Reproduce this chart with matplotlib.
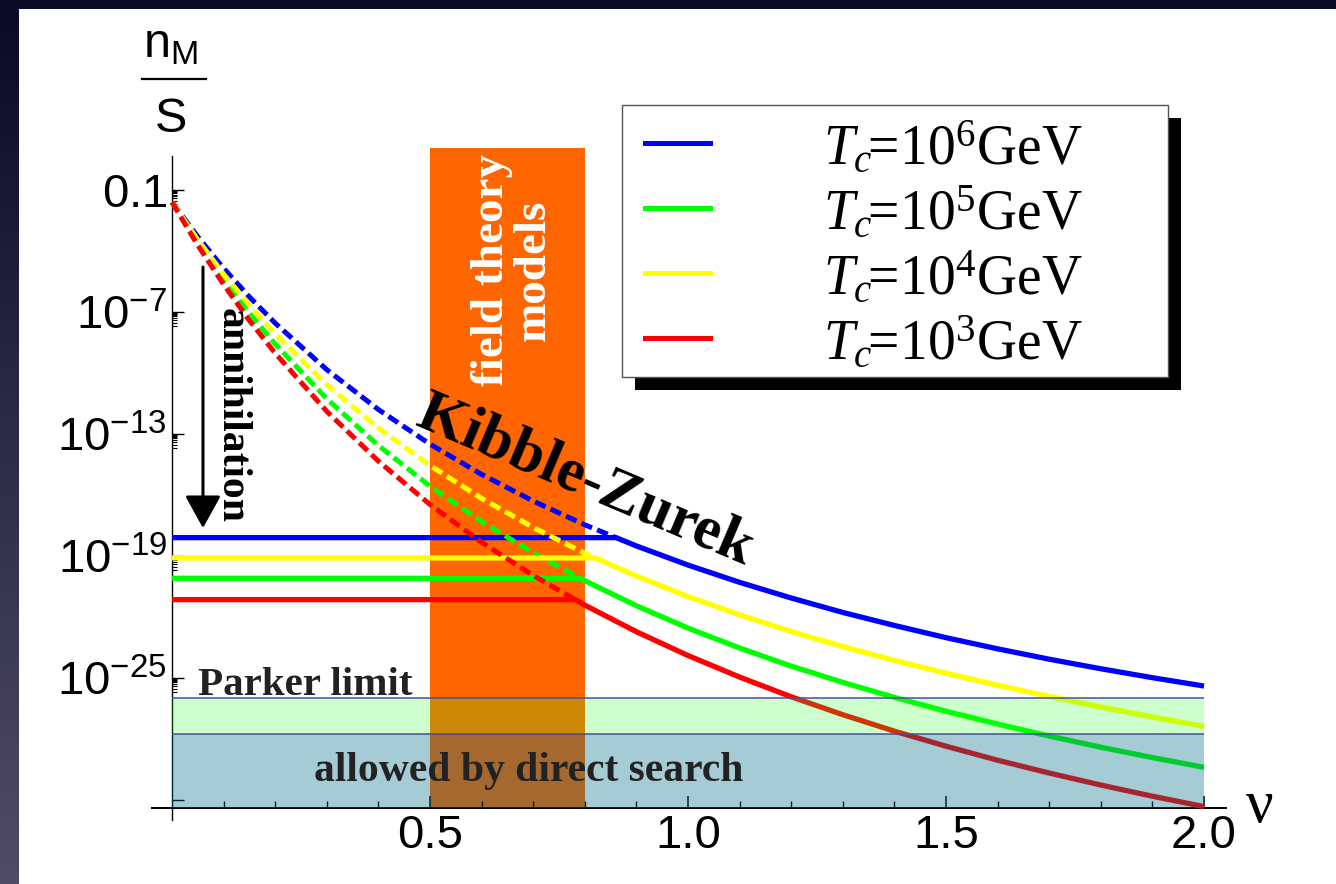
import numpy as np
import matplotlib.pyplot as plt
from matplotlib.patches import Rectangle
from matplotlib.lines import Line2D
from matplotlib.ticker import NullFormatter

plt.rcParams['font.family'] = 'Liberation Sans'
plt.rcParams['mathtext.fontset'] = 'custom'
plt.rcParams['mathtext.rm'] = 'Liberation Serif'
plt.rcParams['mathtext.it'] = 'Liberation Serif:italic'
plt.rcParams['mathtext.bf'] = 'Liberation Serif:bold'
plt.rcParams['mathtext.sf'] = 'Liberation Sans'

################# Data (log10 of n_M/s) ################
nu = np.array([0, 0.05, 0.1, 0.15, 0.2, 0.3, 0.4, 0.5, 0.6, 0.7, 0.8, 0.9,
               1.0, 1.1, 1.2, 1.3, 1.4, 1.5, 1.6, 1.7, 1.8, 1.9, 2.0])
kz_blue = np.array([-1.6, -3.3, -4.85, -6.26, -7.55, -9.84, -11.8, -13.5, -14.99, -16.3,
                    -17.47, -18.51, -19.45, -20.3, -21.07, -21.78, -22.42, -23.02, -23.57,
                    -24.08, -24.55, -24.99, -25.4])
kz_yellow = np.array([-1.6, -3.45, -5.14, -6.67, -8.08, -10.58, -12.71, -14.55, -16.17, -17.6,
                      -18.87, -19.99, -21.0, -21.9, -22.72, -23.46, -24.14, -24.77, -25.36,
                      -25.91, -26.43, -26.92, -27.39])
kz_green = np.array([-1.6, -3.6, -5.41, -7.07, -8.58, -11.27, -13.57, -15.57, -17.31, -18.85,
                     -20.22, -21.45, -22.55, -23.53, -24.42, -25.22, -25.96, -26.64, -27.27,
                     -27.86, -28.41, -28.92, -29.4])
kz_red = np.array([-1.6, -3.72, -5.65, -7.42, -9.03, -11.89, -14.34, -16.47, -18.33, -19.96,
                   -21.42, -22.73, -23.9, -24.96, -25.93, -26.81, -27.62, -28.36, -29.05,
                   -29.68, -30.27, -30.82, -31.33])

tc_exp = [6, 5, 4, 3]
series_kz = [kz_blue, kz_green, kz_yellow, kz_red]
plateau = [-18.1, -20.1, -19.1, -21.15]
colors = ['#0000ff', '#00ff00', '#ffff00', '#ff0000']

field_band = (0.5, 0.8)
parker_limit = -26.0
direct_limit = -27.75
nu_max = 2.0

y_major_exp = [-1, -7, -13, -19, -25, -31]
y_major_text = ['0.1', '10^{-7}', '10^{-13}', '10^{-19}', '10^{-25}', '']
x_major = [0.5, 1.0, 1.5, 2.0]
x_major_text = ['0.5', '1.0', '1.5', '2.0']
#######################################################

W, H = 1336, 884
def fx(x):
    return x / W
def fy(y):
    return 1 - y / H

fig = plt.figure(figsize=(W / 100, H / 100), dpi=100, facecolor='#05051e')

# slide background: dark gradient strip + white panel
bg = fig.add_axes([0, 0, 1, 1], zorder=-10)
top = np.array([10, 10, 38]) / 255
bot = np.array([80, 76, 100]) / 255
t = np.linspace(0, 1, 200)[:, None, None]
grad = top * (1 - t) + bot * t
bg.imshow(grad, aspect='auto', extent=[0, 1, 0, 1])
bg.axis('off')
fig.add_artist(Rectangle((fx(19), 0), 1, fy(9), transform=fig.transFigure,
                         fc='white', ec='none', zorder=-5))

# axes
y_bottom, y_top, x_axis_level, y_axis_top = -31.99, 1.066, -31.39, 0.67
ax = fig.add_axes([152 / W, (H - 820) / H, 1074 / W, 672 / H])
ax.set_facecolor('none')
ax.set_yscale('log')
ax.set_xlim(-0.0388, 2.0426)
ax.set_ylim(10 ** y_bottom, 10 ** y_top)

# orange field-theory band
ax.fill_between(list(field_band), 10 ** x_axis_level, 10 ** y_top,
                color='#ff6600', lw=0, zorder=1)

# curves: dashed Kibble-Zurek part above the plateau, solid min(KZ, plateau)
for kz, p, c in zip(series_kz, plateau, colors):
    i = int(np.argmax(kz < p))
    tt = (kz[i - 1] - p) / (kz[i - 1] - kz[i])
    nu_c = nu[i - 1] + tt * (nu[i] - nu[i - 1])
    xd = np.concatenate([nu[:i], [nu_c]])
    yd = np.concatenate([kz[:i], [p]])
    ax.plot(xd, 10 ** yd, color=c, lw=3.6, ls=(0, (2.3, 1.1)),
            dash_capstyle='butt', zorder=3)
    xs = np.concatenate([[0, nu_c], nu[i:]])
    ys = np.concatenate([[p, p], kz[i:]])
    ax.plot(xs, 10 ** ys, color=c, lw=3.8, zorder=3, solid_capstyle='butt',
            solid_joinstyle='round')

# experimental bands (semi transparent, on top of curves)
ax.fill_between([0, nu_max], 10 ** x_axis_level, 10 ** direct_limit,
                color=(0, 108 / 255, 136 / 255), alpha=0.353, lw=0, zorder=4)
ax.fill_between([0, nu_max], 10 ** direct_limit, 10 ** parker_limit,
                color=(25 / 255, 1, 25 / 255), alpha=0.22, lw=0, zorder=4)
ax.hlines([10 ** parker_limit, 10 ** direct_limit], 0, nu_max,
          color='#4b4ba8', lw=1.1, zorder=5)

# arrow
arrow_nu = 0.06
ax.annotate('', xy=(arrow_nu, 10 ** -17.63), xytext=(arrow_nu, 10 ** -4.79),
            arrowprops=dict(arrowstyle='-|>,head_length=0.67,head_width=0.37',
                            color='black', lw=2.2, mutation_scale=30,
                            shrinkA=0, shrinkB=0), zorder=6)

# spines & ticks
ax.spines['top'].set_visible(False)
ax.spines['right'].set_visible(False)
ax.spines['left'].set_position(('data', 0))
ax.spines['left'].set_bounds(10 ** y_bottom, 10 ** y_axis_top)
ax.spines['bottom'].set_position(('data', 10 ** x_axis_level))
ax.spines['left'].set_linewidth(1.0)
ax.spines['bottom'].set_linewidth(1.4)

ax.set_yticks([10.0 ** e for e in y_major_exp],
              [r'$\mathsf{%s}$' % s if s else '' for s in y_major_text])
y_minor = [m * 10.0 ** (e - 1) for e in y_major_exp[:-1] for m in range(2, 10)]
ax.set_yticks(y_minor, minor=True)
ax.yaxis.set_minor_formatter(NullFormatter())
ax.set_xticks(x_major, x_major_text)
ax.set_xticks([v for v in np.round(np.arange(0.1, 2.0, 0.1), 1) if v not in x_major],
              minor=True)
ax.tick_params(axis='y', which='major', direction='in', length=8.6, width=1,
               pad=3.6, labelsize=34)
ax.tick_params(axis='y', which='minor', direction='in', length=3.6, width=0.8)
ax.tick_params(axis='x', which='major', direction='in', length=8.6, width=1.1,
               pad=4.3, labelsize=34)
ax.tick_params(axis='x', which='minor', direction='in', length=5, width=1)

# texts
serif = 'Liberation Serif'
fig.text(fx(579), fy(495), 'Kibble-Zurek', rotation=-23, rotation_mode='anchor',
         ha='center', va='baseline', family=serif, weight='bold', fontsize=44)
fig.text(fx(513), fy(270), 'field theory\nmodels', rotation=90, ha='center',
         va='center', color='white', family=serif, weight='bold', fontsize=34,
         linespacing=1.0, multialignment='center')
fig.text(fx(232), fy(415), 'annihilation', rotation=-90, ha='center', va='center',
         family=serif, weight='bold', fontsize=30)
fig.text(fx(198), fy(695), 'Parker limit', ha='left', va='baseline', family=serif,
         weight='bold', fontsize=29.5, color='#222222')
fig.text(fx(529), fy(781), 'allowed by direct search', ha='center', va='baseline',
         family=serif, weight='bold', fontsize=30, color='#222222')
fig.text(fx(1260), fy(822), 'ν', ha='center', va='baseline', family=serif,
         fontsize=44)

# y label as a fraction
fig.text(fx(170), fy(57), r'$\mathsf{n_M}$', ha='center', va='baseline', fontsize=35)
fig.add_artist(Line2D([fx(142), fx(206)], [fy(79), fy(79)], color='black', lw=1.6))
fig.text(fx(171), fy(132), 'S', ha='center', va='baseline', fontsize=35)

# legend box with hard black shadow
lx0, ly0, lx1, ly1 = 622, 105, 1168, 377
fig.add_artist(Rectangle((fx(lx0 + 13), fy(ly1 + 13)), (lx1 - lx0) / W, (ly1 - ly0) / H,
                         transform=fig.transFigure, fc='black', ec='none', zorder=20))
fig.add_artist(Rectangle((fx(lx0), fy(ly1)), (lx1 - lx0) / W, (ly1 - ly0) / H,
                         transform=fig.transFigure, fc='white', ec='#555555',
                         lw=1, zorder=21))
for k, (e, c) in enumerate(zip(tc_exp, colors)):
    row = 143 + 65 * k
    fig.add_artist(Line2D([fx(645), fx(710)], [fy(row), fy(row)], color=c, lw=3.6,
                          zorder=22))
    fig.text(fx(823), fy(row + 21), r'$T_c\!\!=\!10^{%d}\mathrm{GeV}$' % e,
             ha='left', va='baseline', fontsize=40, zorder=22)

fig.savefig('out.png', dpi=100)
